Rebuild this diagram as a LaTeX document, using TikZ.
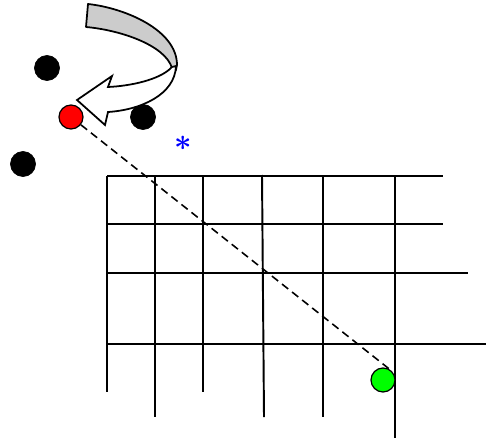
\documentclass[tikz,border=0pt]{standalone}
\usetikzlibrary{arrows}
\begin{document}
\begin{tikzpicture}[x=0.02cm,y=-0.02cm,
  dot/.style={draw,circle,fill=black,minimum size=0.5cm,inner sep=0pt},
  ball/.style={draw,circle,line width=0.7pt,minimum size=0.48cm,inner sep=0pt},
  grid/.style={line width=1.1pt}]
\useasboundingbox (0,0) rectangle (486,439);
% grid
\draw[grid] (107,176) -- (443,176); \draw[grid] (107,224) -- (443,224);
\draw[grid] (107,273) -- (468,273); \draw[grid] (107,344) -- (486,344);
\draw[grid] (107,176) -- (107,392); \draw[grid] (155,176) -- (155,417);
\draw[grid] (203,176) -- (203,392); \draw[grid] (262,175) -- (264,417);
\draw[grid] (323,176) -- (323,417); \draw[grid] (395,176) -- (395,438);
% points
\node[dot] (b0) at (47,68) {};
\node[dot] (b1) at (23,164) {};
\node[dot] (b2) at (143,117) {};
\node[ball,fill=red] (r0) at (71,117) {};
\node[ball,fill=green] (g0) at (383,380) {};
\node[text=blue,font=\LARGE\boldmath] (a0) at (183,143) {$\ast$};
\draw[line width=0.9pt,dash pattern=on 4.5pt off 2.8pt] (r0) -- (g0.north east);
% turning arrow
\filldraw[fill=gray!40,line width=1pt,line join=round] (88,4) .. controls (125,8) and (177,30) .. (177,65)
  -- (176,70) -- (172,68) .. controls (165,45) and (120,30) .. (86,27) -- cycle;
\filldraw[fill=white,line width=1pt,line join=miter] (172,67) .. controls (160,80) and (130,86) .. (108,87)
  -- (112,76) -- (77,100) -- (105,125) -- (108,112)
  .. controls (140,110) and (175,95) .. (176,66) -- cycle;
\end{tikzpicture}
\end{document}
